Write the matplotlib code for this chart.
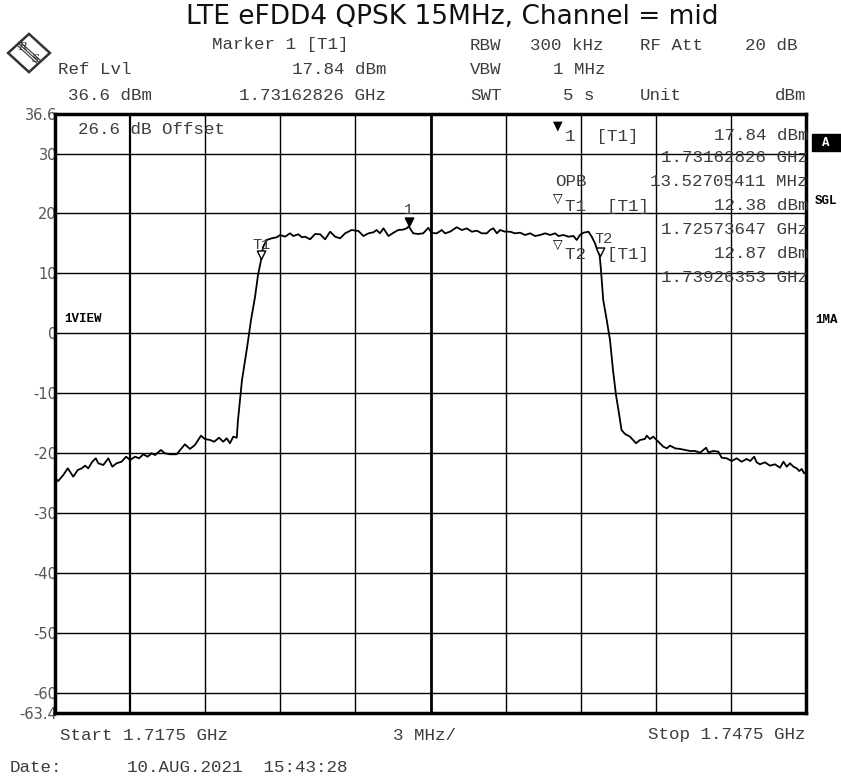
import numpy as np
import matplotlib
matplotlib.use("Agg")
import matplotlib.pyplot as plt
import matplotlib.patches as patches

# --- chart data ---
title = "LTE eFDD4 QPSK 15MHz, Channel = mid"
start_mhz, stop_mhz = 1717.5, 1747.5
ref_lvl, bottom_lvl = 36.6, -63.4
y_ticks = [30, 20, 10, 0, -10, -20, -30, -40, -50, -60]

# trace (MHz, dBm)
freq = [1717.50, 1717.63, 1717.83, 1718.01, 1718.10, 1718.23, 1718.41, 1718.57, 1718.70, 1718.83,
        1718.99, 1719.13, 1719.23, 1719.43, 1719.63, 1719.79, 1719.96, 1720.16, 1720.34, 1720.50,
        1720.70, 1720.86, 1721.03, 1721.20, 1721.36, 1721.50, 1721.73, 1721.89, 1722.09, 1722.36,
        1722.56, 1722.69, 1722.89, 1723.09, 1723.33, 1723.49, 1723.69, 1723.86, 1724.05, 1724.22,
        1724.36, 1724.49, 1724.62, 1724.76,
        1724.81, 1724.97, 1725.17, 1725.33, 1725.49, 1725.61, 1725.74, 1725.81, 1725.96,
        1726.16, 1726.36, 1726.49, 1726.69, 1726.89, 1727.02, 1727.22, 1727.36, 1727.49, 1727.69,
        1727.89, 1728.09, 1728.29, 1728.49, 1728.69, 1728.89, 1729.09, 1729.35, 1729.62, 1729.82,
        1730.02, 1730.22, 1730.35, 1730.48, 1730.62, 1730.82, 1731.02, 1731.21, 1731.41, 1731.55,
        1731.63, 1731.81, 1732.01, 1732.21, 1732.41, 1732.55, 1732.75, 1732.95, 1733.08, 1733.28,
        1733.55, 1733.75, 1733.95, 1734.15, 1734.35, 1734.55, 1734.75, 1734.88, 1735.01, 1735.15,
        1735.28, 1735.48, 1735.68, 1735.88, 1736.08, 1736.28, 1736.48, 1736.68, 1736.88, 1737.08,
        1737.28, 1737.48, 1737.61, 1737.81, 1738.01, 1738.21, 1738.34, 1738.47, 1738.61, 1738.81,
        1738.94, 1739.07, 1739.26,
        1739.31, 1739.40, 1739.54, 1739.67, 1739.79, 1739.91, 1740.04, 1740.13, 1740.27, 1740.47,
        1740.71, 1740.87, 1741.06, 1741.14, 1741.27, 1741.40, 1741.60, 1741.80, 1741.94, 1742.07,
        1742.27, 1742.47, 1742.67, 1742.87, 1743.07, 1743.27, 1743.40, 1743.51, 1743.60, 1743.80,
        1744.00, 1744.13, 1744.33, 1744.53, 1744.73, 1744.93, 1745.13, 1745.27, 1745.43, 1745.53,
        1745.66, 1745.86, 1746.06, 1746.26, 1746.46, 1746.60, 1746.73, 1746.86, 1747.00, 1747.13,
        1747.23, 1747.33, 1747.42, 1747.50]
level = [-24.22, -24.67, -23.67, -22.55, -23.11, -23.95, -22.83, -22.55, -22.11, -22.55,
         -21.45, -20.88, -21.71, -22.00, -20.88, -22.28, -21.71, -21.45, -20.61, -21.16,
         -20.61, -20.88, -20.21, -20.61, -20.04, -20.33, -19.49, -20.04, -20.21, -20.21,
         -19.21, -18.54, -19.32, -18.66, -17.11, -17.66, -17.82, -18.11, -17.44, -18.11,
         -17.54, -18.37, -17.27, -17.44,
         -14.48, -7.81, -2.46, 2.21, 6.05, 9.72, 12.38, 14.40, 15.57,
         15.85, 16.02, 16.40, 16.12, 16.68, 16.23, 16.52, 16.02, 16.12, 15.68,
         16.57, 16.52, 15.68, 16.95, 16.12, 15.85, 16.68, 17.23, 17.07, 16.23,
         16.68, 16.85, 17.23, 16.68, 17.52, 16.23, 16.78, 17.23, 17.30, 17.52,
         17.84, 16.68, 16.57, 16.68, 17.60, 16.73, 16.68, 17.23, 16.68, 16.95,
         17.70, 17.23, 17.50, 16.95, 17.12, 16.68, 16.68, 17.23, 17.52, 16.68,
         17.23, 16.95, 16.95, 16.68, 16.78, 16.40, 16.68, 16.23, 16.40, 16.68,
         16.40, 16.68, 16.23, 16.40, 16.12, 16.23, 15.57, 16.40, 16.78, 16.95,
         16.12, 15.01, 12.87,
         10.56, 5.55, 2.21, -1.13, -6.14, -10.31, -13.65, -16.15, -16.82, -17.27,
         -18.37, -17.82, -17.66, -17.11, -17.66, -17.27, -18.11, -18.94, -19.21, -18.77,
         -19.21, -19.32, -19.49, -19.66, -19.66, -19.94, -19.49, -19.11, -19.88, -19.66,
         -19.78, -20.78, -20.88, -21.33, -20.88, -21.45, -20.99, -21.33, -20.61, -21.55,
         -21.88, -21.55, -22.11, -21.88, -22.45, -21.45, -22.28, -21.71, -22.28, -22.55,
         -23.00, -22.66, -23.38, -23.11]

# markers
marker_names = ["1", "T1", "T2"]
marker_freq = [1731.62826, 1725.73647, 1739.26353]
marker_level = [17.84, 12.38, 12.87]
obw_mhz = 13.52705411

W, H = 841, 778
MONO = "Liberation Mono"
GREY = "#3c3c3c"

fig = plt.figure(figsize=(W / 100, H / 100), dpi=100)
ax = fig.add_axes([55 / W, 1 - 713 / H, 751 / W, 599 / H])


def ft(x, y, s, **kw):
    # text placed in screen pixels (from top-left)
    kw.setdefault("family", MONO)
    kw.setdefault("fontsize", 12.6)
    kw.setdefault("color", GREY)
    kw.setdefault("va", "center")
    return fig.text(x / W, 1 - y / H, s, **kw)


# --- grid ---
div = (stop_mhz - start_mhz) / 10
centre = (start_mhz + stop_mhz) / 2
for i in range(1, 10):
    xv = start_mhz + i * div
    lw = 2.0 if abs(xv - centre) < 1e-6 else (1.6 if i == 1 else 1.0)
    ax.axvline(xv, color="black", lw=lw, zorder=1)
for yv in y_ticks:
    ax.axhline(yv, color="black", lw=1.0, zorder=1)

ax.plot(freq, level, color="black", lw=1.3, zorder=3)

# marker symbols: tip of the triangle sits on the trace
tri = [(-0.55, 1.1), (0.55, 1.1), (0, 0), (-0.55, 1.1)]
ax.scatter(marker_freq[:1], marker_level[:1], marker=tri, s=150, c="black", zorder=4)
ax.scatter(marker_freq[1:], marker_level[1:], marker=tri, s=150, facecolors="white",
           edgecolors="black", linewidths=1.0, zorder=4)
ax.annotate(marker_names[0], (marker_freq[0], marker_level[0]), xytext=(0, 12),
            textcoords="offset points", ha="center", va="center", family=MONO,
            fontsize=11, color=GREY)
ax.annotate(marker_names[1], (marker_freq[1], marker_level[1]), xytext=(0, 10),
            textcoords="offset points", ha="center", va="center", family=MONO,
            fontsize=11, color=GREY)
ax.annotate(marker_names[2], (marker_freq[2], marker_level[2]), xytext=(3, 12),
            textcoords="offset points", ha="center", va="center", family=MONO,
            fontsize=11, color=GREY)

ax.set_xlim(start_mhz, stop_mhz)
ax.set_ylim(bottom_lvl, ref_lvl)
ax.set_xticks([])
ax.set_yticks([ref_lvl] + y_ticks + [bottom_lvl])
ax.set_yticklabels(["36.6"] + [str(v) for v in y_ticks] + ["-63.4"])
ax.tick_params(axis="y", length=0, pad=-1.5, labelsize=10.5, labelcolor="#555555")
for sp in ax.spines.values():
    sp.set_linewidth(2.5)
    sp.set_zorder(5)

# --- title and header ---
fig.text(452 / W, 1 - 17 / H, title, ha="center", va="center", fontsize=19,
         family="DejaVu Sans", color="#111111")

ft(212, 45, "Marker 1 [T1]")
ft(470, 45, "RBW")
ft(530, 45, "300 kHz")
ft(640, 45, "RF Att")
ft(745, 45, "20 dB")
ft(58, 70, "Ref Lvl")
ft(386, 70, f"{marker_level[0]:.2f} dBm", ha="right")
ft(470, 70, "VBW")
ft(553, 70, "1 MHz")
ft(68, 95, f"{ref_lvl} dBm")
ft(386, 95, f"{marker_freq[0] / 1000:.8f} GHz", ha="right")
ft(470, 95, "SWT")
ft(563, 95, "5 s")
ft(640, 95, "Unit")
ft(806, 95, "dBm", ha="right")

# marker table inside the screen
ft(78, 130, "26.6 dB Offset")
ft(553, 126, "\u25bc", fontsize=9, family="DejaVu Sans", color="black")
ft(565, 136, "1  [T1]")
ft(808, 136, f"{marker_level[0]:.2f} dBm", ha="right")
ft(808, 158, f"{marker_freq[0] / 1000:.8f} GHz", ha="right")
ft(555, 181, "OPB")
ft(808, 181, f"{obw_mhz:.8f} MHz", ha="right")
ft(553, 198, "\u25bd", fontsize=9, family="DejaVu Sans", color="black")
ft(565, 207, "T1  [T1]")
ft(808, 205, f"{marker_level[1]:.2f} dBm", ha="right")
ft(808, 230, f"{marker_freq[1] / 1000:.8f} GHz", ha="right")
ft(553, 245, "\u25bd", fontsize=9, family="DejaVu Sans", color="black")
ft(565, 255, "T2  [T1]")
ft(808, 253, f"{marker_level[2]:.2f} dBm", ha="right")
ft(808, 278, f"{marker_freq[2] / 1000:.8f} GHz", ha="right")

# side labels
ft(64, 319, "1VIEW", fontsize=9, weight="bold", color="black")
ft(815, 201, "SGL", fontsize=9, weight="bold", color="black")
ft(815, 320, "1MA", fontsize=9, weight="bold", color="black")
fig.patches.append(patches.Rectangle((812 / W, 1 - 151 / H), 30 / W, 17 / H,
                                     transform=fig.transFigure, color="black"))
ft(826, 143, "A", fontsize=9, weight="bold", color="white", ha="center")

# footer
ft(60, 735, f"Start {start_mhz / 1000:.4f} GHz")
ft(425, 735, f"{div:.0f} MHz/", ha="center")
ft(806, 735, f"Stop {stop_mhz / 1000:.4f} GHz", ha="right")
ft(10, 767, "Date:")
ft(127, 767, "10.AUG.2021  15:43:28")

# R&S logo
lax = fig.add_axes([6 / W, 1 - 74 / H, 46 / W, 42 / H])
lax.set_xlim(-1.1, 1.1)
lax.set_ylim(-1.1, 1.1)
lax.axis("off")
lax.add_patch(patches.Polygon([(0, 1), (1, 0), (0, -1), (-1, 0)], closed=True,
                              fill=False, ec="#333333", lw=1.8))
for d in (-0.08, 0.0, 0.08):
    lax.plot([-0.5 + d, 0.5 + d], [0.5 + d, -0.5 + d], color="#333333", lw=0.8)
lax.text(-0.3, 0.3, "R", ha="center", va="center", fontsize=8, style="italic",
         family="DejaVu Serif", color="#333333")
lax.text(0.3, -0.3, "S", ha="center", va="center", fontsize=8, style="italic",
         family="DejaVu Serif", color="#333333")

fig.savefig("out.png", dpi=100)
